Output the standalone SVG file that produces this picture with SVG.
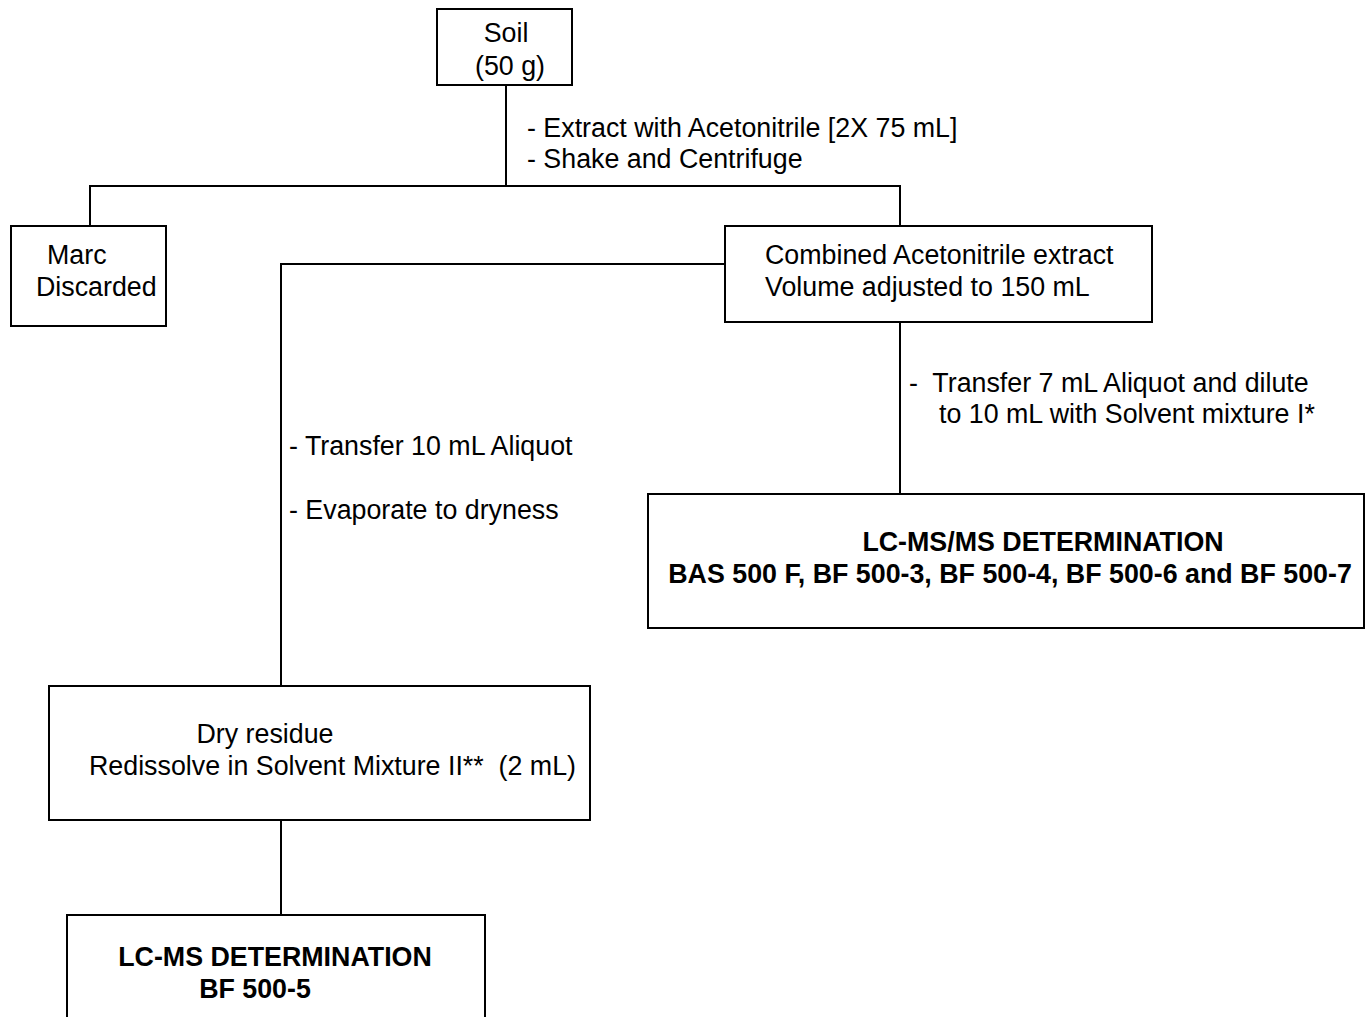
<svg xmlns="http://www.w3.org/2000/svg" width="1370" height="1017" viewBox="0 0 1370 1017">
<style>
.box{fill:#fff;stroke:#000;stroke-width:2}
.ln{fill:none;stroke:#000;stroke-width:2}
text{font-family:"Liberation Sans",Arial,sans-serif;font-size:26.8px;fill:#000}
.b{font-weight:bold;font-size:26.8px}
</style>
<rect width="1370" height="1017" fill="#fff"/>
<g id="connectors">
<path class="ln" d="M506,85 V186 M90,226 V186 H900 V226"/>
<path class="ln" d="M725,264 H281 V686"/>
<path class="ln" d="M900,322 V494"/>
<path class="ln" d="M281,820 V915"/>
<text x="527" y="137">- Extract with Acetonitrile [2X 75 mL]</text>
<text x="527" y="168">- Shake and Centrifuge</text>
<text x="289" y="455">- Transfer 10 mL Aliquot</text>
<text x="289" y="519">- Evaporate to dryness</text>
<text x="909" y="392" xml:space="preserve">-  Transfer 7 mL Aliquot and dilute</text>
<text x="939" y="423">to 10 mL with Solvent mixture I*</text>
</g>
<g id="soil">
<rect class="box" x="437" y="9" width="135" height="76"/>
<text x="506" y="42" text-anchor="middle">Soil</text>
<text x="510" y="75" text-anchor="middle">(50 g)</text>
</g>
<g id="marc">
<rect class="box" x="11" y="226" width="155" height="100"/>
<text x="47" y="264">Marc</text>
<text x="36" y="296">Discarded</text>
</g>
<g id="combined">
<rect class="box" x="725" y="226" width="427" height="96"/>
<text x="765" y="264">Combined Acetonitrile extract</text>
<text x="765" y="296">Volume adjusted to 150 mL</text>
</g>
<g id="lcmsms">
<rect class="box" x="648" y="494" width="716" height="134"/>
<text class="b" x="1043" y="551" text-anchor="middle">LC-MS/MS DETERMINATION</text>
<text class="b" x="1010" y="583" text-anchor="middle">BAS 500 F, BF 500-3, BF 500-4, BF 500-6 and BF 500-7</text>
</g>
<g id="dry">
<rect class="box" x="49" y="686" width="541" height="134"/>
<text x="265" y="743" text-anchor="middle">Dry residue</text>
<text x="89" y="775" xml:space="preserve">Redissolve in Solvent Mixture II**  (2 mL)</text>
</g>
<g id="lcms">
<path class="box" d="M67,1017 V915 H485 V1017"/>
<text class="b" x="275" y="966" text-anchor="middle">LC-MS DETERMINATION</text>
<text class="b" x="255" y="998" text-anchor="middle">BF 500-5</text>
</g>
</svg>
